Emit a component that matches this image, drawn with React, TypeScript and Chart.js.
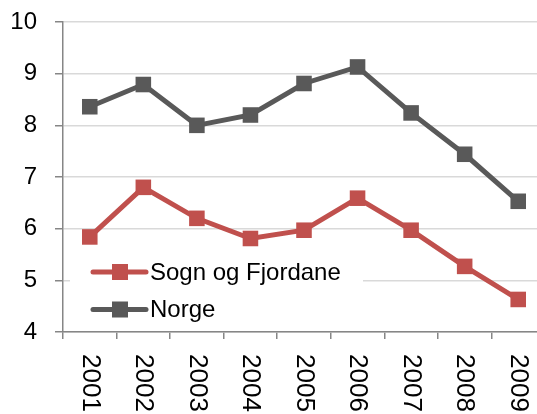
import { useEffect, useRef } from "react";
import { Chart, registerables } from "chart.js";

Chart.register(...registerables);

const years = ["2001", "2002", "2003", "2004", "2005", "2006", "2007", "2008", "2009"];
const sognValues = [5.84, 6.8, 6.2, 5.81, 5.97, 6.59, 5.97, 5.27, 4.63];
const norgeValues = [8.36, 8.79, 8.0, 8.2, 8.81, 9.13, 8.24, 7.44, 6.53];
const seriesNames = ["Sogn og Fjordane", "Norge"];
const seriesColors = ["#C0504D", "#595959"];
const yMin = 4;
const yMax = 10;

const FONT = '"Liberation Sans", Arial, sans-serif';

const insideLegend = {
  id: "insideLegend",
  beforeDatasetsDraw(chart: any) {
    const ctx = chart.ctx;
    ctx.save();
    ctx.fillStyle = "#ffffff";
    ctx.fillRect(70, 246, 293, 80);
    ctx.restore();
  },
  afterDraw(chart: any) {
    const ctx = chart.ctx;
    ctx.save();
    chart.data.datasets.forEach((ds: any, i: number) => {
      const y = 272 + i * 37.5;
      ctx.strokeStyle = ds.borderColor;
      ctx.lineWidth = 5;
      ctx.lineCap = "round";
      ctx.beginPath();
      ctx.moveTo(93, y);
      ctx.lineTo(146, y);
      ctx.stroke();
      ctx.fillStyle = ds.borderColor;
      ctx.fillRect(112, y - 8, 16, 16);
      ctx.fillStyle = "#000000";
      ctx.font = `24px ${FONT}`;
      ctx.textAlign = "left";
      ctx.textBaseline = "middle";
      ctx.fillText(ds.label, 150, y + 1);
    });
    ctx.restore();
  },
};

const rotatedXLabels = {
  id: "rotatedXLabels",
  afterDraw(chart: any) {
    const ctx = chart.ctx;
    const xs = chart.scales.x;
    ctx.save();
    ctx.fillStyle = "#000000";
    ctx.font = `26px ${FONT}`;
    ctx.textAlign = "left";
    ctx.textBaseline = "middle";
    (chart.data.labels as string[]).forEach((lab, i) => {
      const x = xs.getPixelForValue(i);
      ctx.save();
      ctx.translate(x, xs.top + 22);
      ctx.rotate(Math.PI / 2);
      ctx.fillText(lab, 0, 0);
      ctx.restore();
    });
    ctx.restore();
  },
};

export default function App() {
  const ref = useRef<HTMLCanvasElement | null>(null);

  useEffect(() => {
    if (!ref.current) return;
    const chart = new Chart(ref.current, {
      type: "line",
      data: {
        labels: years,
        datasets: [
          {
            label: seriesNames[0],
            data: sognValues,
            borderColor: seriesColors[0],
            backgroundColor: seriesColors[0],
            pointBackgroundColor: seriesColors[0],
            pointBorderWidth: 0,
            pointStyle: "rect",
            pointRadius: 11,
            borderWidth: 5,
            tension: 0,
          },
          {
            label: seriesNames[1],
            data: norgeValues,
            borderColor: seriesColors[1],
            backgroundColor: seriesColors[1],
            pointBackgroundColor: seriesColors[1],
            pointBorderWidth: 0,
            pointStyle: "rect",
            pointRadius: 11,
            borderWidth: 5,
            tension: 0,
          },
        ],
      },
      options: {
        animation: false,
        responsive: false,
        devicePixelRatio: 1,
        layout: { padding: { top: 22, right: 5, left: 0, bottom: 0 } },
        plugins: {
          legend: { display: false },
          tooltip: { enabled: false },
        },
        scales: {
          x: {
            type: "category",
            offset: true,
            grid: {
              offset: true,
              drawOnChartArea: false,
              drawTicks: true,
              tickLength: 7,
              color: "#868686",
              tickColor: "#868686",
              lineWidth: 1.5,
            },
            border: { color: "#868686", width: 1.5 },
            ticks: { display: false },
            afterFit: (scale: any) => {
              scale.height = 82;
              scale.paddingLeft = 0;
              scale.paddingRight = 0;
            },
          },
          y: {
            min: yMin,
            max: yMax,
            grid: {
              color: "#D9D9D9",
              lineWidth: 1.5,
              tickColor: "#868686",
              tickLength: 8,
            },
            border: { color: "#868686", width: 1.5 },
            ticks: {
              stepSize: 1,
              padding: 18,
              color: "#000000",
              font: { family: FONT, size: 24 },
            },
            afterFit: (scale: any) => {
              scale.width = 63;
              scale.paddingTop = 0;
              scale.paddingBottom = 0;
            },
          },
        },
      },
      plugins: [insideLegend, rotatedXLabels],
    });
    return () => chart.destroy();
  }, []);

  return (
    <div
      style={{
        position: "absolute",
        left: 0,
        top: 0,
        width: 537,
        height: 414,
        overflow: "hidden",
        background: "#ffffff",
      }}
    >
      <canvas ref={ref} width={556} height={414} style={{ display: "block", width: 556, height: 414 }} />
    </div>
  );
}
